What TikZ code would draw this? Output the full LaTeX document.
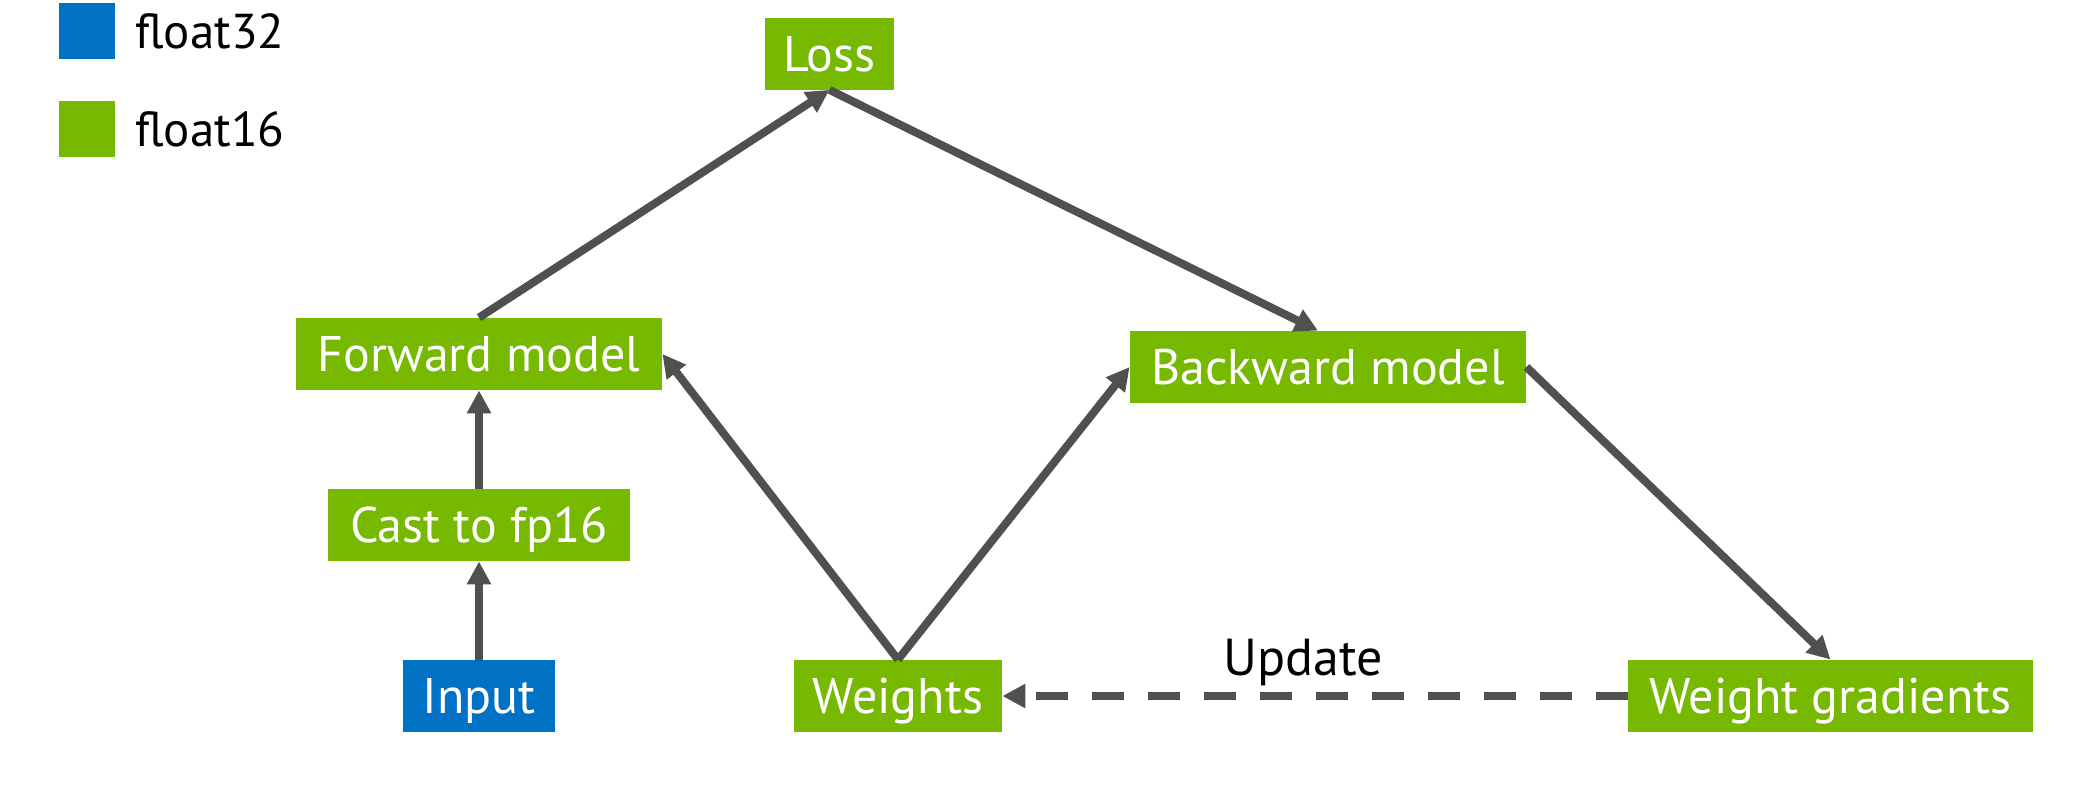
\documentclass[tikz,border=0pt]{standalone}
\usepackage{fontspec}
\setmainfont{PT Sans}
\usetikzlibrary{arrows.meta}
\definecolor{nvgreen}{HTML}{76B900}
\definecolor{fpblue}{HTML}{0071C5}
\definecolor{wire}{HTML}{505050}
\begin{document}
\begin{tikzpicture}[x=0.5pt,y=-0.5pt,
  box/.style={fill=nvgreen, text=white, inner sep=0pt, minimum height=36pt,
    text height=17.5pt, text depth=0pt, font=\fontsize{25pt}{25pt}\selectfont},
  swatch/.style={inner sep=0pt, minimum size=28pt},
  legendtext/.style={anchor=base west, inner sep=0pt, font=\fontsize{24.5pt}{24.5pt}\selectfont},
  flow/.style={draw=wire, line width=4pt, -{Triangle[length=11.5pt,width=11.5pt]}},
  updateflow/.style={flow, dash pattern=on 16pt off 12pt}]
\useasboundingbox (0,0) rectangle (2086,810);

% legend
\node[swatch, fill=fpblue] (k32) at (87,31) {};
\node[swatch, fill=nvgreen] (k16) at (87,129) {};
\node[legendtext] (t32) at (135,48) {float32};
\node[legendtext] (t16) at (135,146) {float16};

% processing stages
\node[box, minimum width=64.5pt] (loss) at (829.5,53.5) {Loss};
\node[box, minimum width=183pt] (fwd) at (479,354) {Forward model};
\node[box, minimum width=151pt] (cast) at (479,525) {Cast to fp16};
\node[box, minimum width=76pt, fill=fpblue] (input) at (479,696) {Input};
\node[box, minimum width=198pt] (bwd) at (1328,367) {Backward model};
\node[box, minimum width=104pt] (wts) at (898,696) {Weights};
\node[box, minimum width=202.5pt] (grads) at (1830.5,696) {Weight gradients};

% connections
\draw[flow] (input.north) -- (cast.south);
\draw[flow] (cast.north) -- (fwd.south);
\draw[flow] (fwd.north) -- (loss.south);
\draw[flow] (loss.south) -- ([xshift=-5pt]bwd.north);
\draw[flow] (wts.north) -- (fwd.east);
\draw[flow] (wts.north) -- (bwd.west);
\draw[flow] (bwd.east) -- (grads.north);
\draw[updateflow] (grads.west) -- (wts.east);
\node[anchor=base, inner sep=0pt, font=\fontsize{26pt}{26pt}\selectfont] (upd) at (1303,675) {Update};
\end{tikzpicture}
\end{document}
